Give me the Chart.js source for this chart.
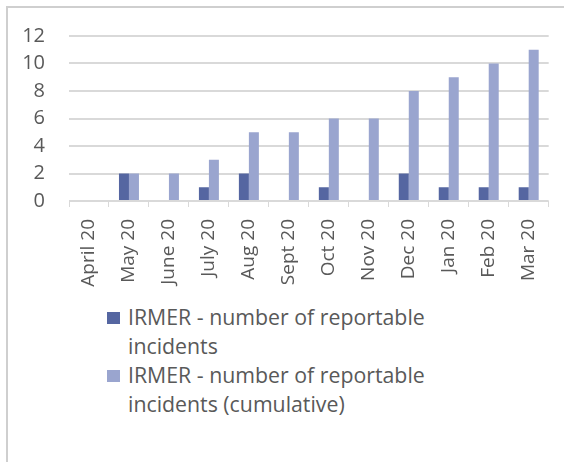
<!DOCTYPE html>
<html>
<head>
<meta charset="utf-8">
<script src="https://cdn.jsdelivr.net/npm/chart.js@4/dist/chart.umd.min.js"></script>
<style>
  html, body { margin: 0; padding: 0; background: #fff; }
  body { width: 564px; height: 462px; position: relative; overflow: hidden; font-family: "Open Sans", sans-serif; }
  #frame { position: absolute; left: 6px; top: 6px; width: 600px; height: 500px;
           border-top: 2px solid #cfcfcf; border-left: 2px solid #cfcfcf; }
  #wrap { position: absolute; left: 0; top: 0; width: 564px; height: 300px; }
  #legend { position: absolute; left: 107px; top: 302px; color: #595959; font-size: 21.3px; line-height: 29px; }
  .item { position: relative; padding-left: 21px; width: 315px; }
  .box { position: absolute; left: 0; top: 10px; width: 13px; height: 12px; }
</style>
</head>
<body>
<div id="frame"></div>
<div id="wrap"><canvas id="c"></canvas></div>
<div id="legend"></div>
<script>
const months = ["April 20", "May 20", "June 20", "July 20", "Aug 20", "Sept 20",
                "Oct 20", "Nov 20", "Dec 20", "Jan 20", "Feb 20", "Mar 20"];
const incidents = [0, 2, 0, 1, 2, 0, 1, 0, 2, 1, 1, 1];
const cumulative = [0, 2, 2, 3, 5, 5, 6, 6, 8, 9, 10, 11];
const seriesNames = ["IRMER - number of reportable incidents",
                     "IRMER - number of reportable incidents (cumulative)"];
const yTicks = [0, 2, 4, 6, 8, 10, 12];

const textColor = "#595959";
const gridColor = "#d9d9d9";
const fontFamily = "'Open Sans', sans-serif";

const chart = new Chart(document.getElementById("c"), {
  type: "bar",
  data: {
    labels: months,
    datasets: [
      { label: seriesNames[0], data: incidents, backgroundColor: "#5566a1" },
      { label: seriesNames[1], data: cumulative, backgroundColor: "#9aa5cf" }
    ]
  },
  options: {
    responsive: true,
    maintainAspectRatio: false,
    animation: false,
    layout: { padding: { top: 35, right: 12, left: 0, bottom: 0 } },
    plugins: { legend: { display: false }, tooltip: { enabled: false } },
    datasets: { bar: { categoryPercentage: 0.5, barPercentage: 1.0 } },
    scales: {
      x: {
        grid: { offset: true, drawOnChartArea: false, drawTicks: true, tickLength: 6, color: gridColor },
        border: { display: true, color: gridColor, width: 1 },
        ticks: { color: textColor, font: { family: fontFamily, size: 19 }, minRotation: 90, maxRotation: 90, padding: 12 },
        afterFit: s => { s.height = 99; }
      },
      y: {
        min: 0, max: 12,
        afterBuildTicks: s => { s.ticks = yTicks.map(v => ({ value: v })); },
        grid: { color: gridColor, lineWidth: 2, drawTicks: false },
        border: { display: false },
        ticks: { color: textColor, font: { family: fontFamily, size: 20 }, padding: 24 },
        afterFit: s => { s.width = 69; }
      }
    }
  }
});

// Legend listing each dataset with its colour swatch
const legend = document.getElementById("legend");
chart.data.datasets.forEach(ds => {
  const item = document.createElement("div");
  item.className = "item";
  const box = document.createElement("span");
  box.className = "box";
  box.style.background = ds.backgroundColor;
  item.appendChild(box);
  item.appendChild(document.createTextNode(ds.label));
  legend.appendChild(item);
});
</script>
</body>
</html>
